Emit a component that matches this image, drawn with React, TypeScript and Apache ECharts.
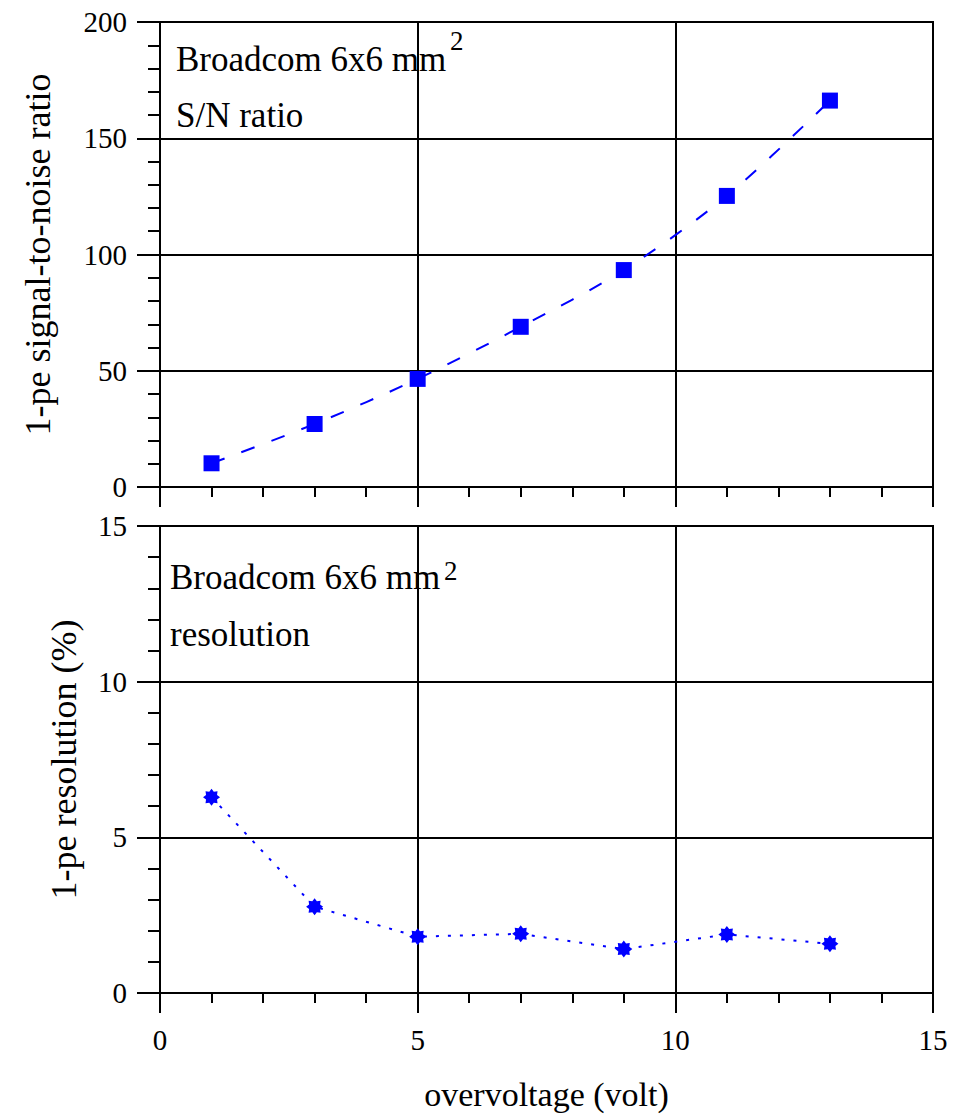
import React, { useEffect, useRef } from "react";
import * as echarts from "echarts";

// ---- data ----
const overvoltage = [1, 3, 5, 7, 9, 11, 13];
const snrValues = [10.2, 27.1, 46.5, 68.9, 93.3, 125.2, 166.2];
const resolutionValues = [6.29, 2.77, 1.81, 1.9, 1.41, 1.88, 1.58];
const xTicks = { min: 0, max: 15, interval: 5 };
const snrTicks = { min: 0, max: 200, interval: 50 };
const resTicks = { min: 0, max: 15, interval: 5 };

const FONT = "Liberation Serif";
const BLUE = "#0000ff";

// 8-point star marker
function starPath(): string {
  const pts: string[] = [];
  const n = 16;
  for (let i = 0; i < n; i++) {
    const r = i % 2 === 0 ? 10 : 7;
    const a = (Math.PI * 2 * i) / n - Math.PI / 2;
    const x = (10 + r * Math.cos(a)).toFixed(2);
    const y = (10 + r * Math.sin(a)).toFixed(2);
    pts.push((i === 0 ? "M" : "L") + x + " " + y);
  }
  return "path://" + pts.join(" ") + " Z";
}

export default function App() {
  const ref = useRef<HTMLDivElement>(null);
  useEffect(() => {
    document.body.style.margin = "0";
    if (!ref.current) return;
    const chart = echarts.init(ref.current, undefined, { renderer: "svg" });

    const axisLineStyle = { color: "#000", width: 2 };
    const xAxisCommon = (gridIndex: number, showLabels: boolean) => ({
      type: "value" as const,
      gridIndex,
      min: xTicks.min,
      max: xTicks.max,
      interval: xTicks.interval,
      axisLine: { show: true, onZero: false, lineStyle: axisLineStyle },
      axisTick: { show: true, inside: false, length: 20, lineStyle: axisLineStyle },
      minorTick: { show: true, splitNumber: 5, length: 10, lineStyle: { color: "#000", width: 2 } },
      splitLine: { show: true, lineStyle: { color: "#000", width: 2 } },
      axisLabel: {
        show: showLabels,
        fontFamily: FONT,
        fontSize: 29,
        color: "#000",
        margin: 32,
      },
      ...(showLabels
        ? {
            name: "overvoltage (volt)",
            nameLocation: "middle" as const,
            nameGap: 84,
            nameTextStyle: { fontFamily: FONT, fontSize: 34, color: "#000" },
          }
        : {}),
    });

    const yAxisCommon = (
      gridIndex: number,
      ticks: { min: number; max: number; interval: number },
      name: string,
      nameGap: number
    ) => ({
      type: "value" as const,
      gridIndex,
      min: ticks.min,
      max: ticks.max,
      interval: ticks.interval,
      name,
      nameLocation: "middle" as const,
      nameGap,
      nameTextStyle: { fontFamily: FONT, fontSize: 36, color: "#000" },
      axisLine: { show: true, onZero: false, lineStyle: axisLineStyle },
      axisTick: { show: true, inside: false, length: 23, lineStyle: axisLineStyle },
      minorTick: { show: true, splitNumber: 5, length: 12, lineStyle: { color: "#000", width: 2 } },
      splitLine: { show: true, lineStyle: { color: "#000", width: 2 } },
      axisLabel: { fontFamily: FONT, fontSize: 29, color: "#000", margin: 33 },
    });

    const noteStyle = { fontFamily: FONT, fontSize: 35, fill: "#000", verticalAlign: "middle" };
    const supStyle = { fontFamily: FONT, fontSize: 27, fill: "#000", verticalAlign: "middle" };

    const option: any = {
      animation: false,
      backgroundColor: "#fff",
      grid: [
        { left: 160, right: 27, top: 22, height: 465, show: true, borderColor: "#000", borderWidth: 2, backgroundColor: "transparent" },
        { left: 160, right: 27, top: 526, height: 467, show: true, borderColor: "#000", borderWidth: 2, backgroundColor: "transparent" },
      ],
      xAxis: [xAxisCommon(0, false), xAxisCommon(1, true)],
      yAxis: [
        yAxisCommon(0, snrTicks, "1-pe signal-to-noise ratio", 104),
        yAxisCommon(1, resTicks, "1-pe resolution (%)", 78),
      ],
      series: [
        {
          type: "line",
          xAxisIndex: 0,
          yAxisIndex: 0,
          data: overvoltage.map((x, i) => [x, snrValues[i]]),
          symbol: "rect",
          symbolSize: 16,
          smooth: 0.3,
          itemStyle: { color: BLUE },
          lineStyle: { color: BLUE, width: 2, type: [14, 18] },
        },
        {
          type: "line",
          xAxisIndex: 1,
          yAxisIndex: 1,
          data: overvoltage.map((x, i) => [x, resolutionValues[i]]),
          symbol: starPath(),
          symbolSize: 17,
          itemStyle: { color: BLUE },
          lineStyle: { color: BLUE, width: 2, type: [3, 9] },
        },
      ],
      graphic: [
        { type: "text", x: 176, y: 59, style: { ...noteStyle, text: "Broadcom 6x6 mm" } },
        { type: "text", x: 450, y: 41, style: { ...supStyle, text: "2" } },
        { type: "text", x: 176, y: 115, style: { ...noteStyle, text: "S/N ratio" } },
        { type: "text", x: 170, y: 577, style: { ...noteStyle, text: "Broadcom 6x6 mm" } },
        { type: "text", x: 444, y: 571, style: { ...supStyle, text: "2" } },
        { type: "text", x: 170, y: 634, style: { ...noteStyle, text: "resolution" } },
      ],
    };
    chart.setOption(option);
    return () => chart.dispose();
  }, []);
  return <div ref={ref} style={{ width: 960, height: 1115, position: "absolute", left: 0, top: 0 }} />;
}
